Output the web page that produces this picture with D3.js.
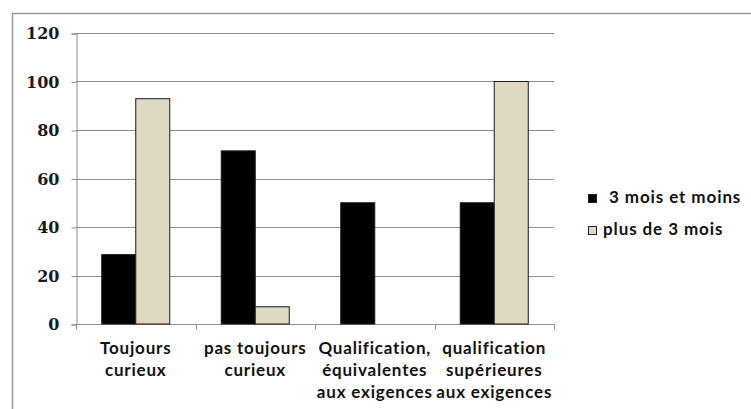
<!DOCTYPE html>
<html>
<head>
<meta charset="utf-8">
<script src="https://cdn.jsdelivr.net/npm/d3@7"></script>
<style>
  html, body { margin: 0; padding: 0; background: #fff; }
  svg { display: block; }
</style>
</head>
<body>
<svg id="chart" width="751" height="409"></svg>
<script>
// Category labels, one entry per line of text
const categories = [
  ["Toujours", "curieux"],
  ["pas toujours", "curieux"],
  ["Qualification,", "équivalentes", "aux exigences"],
  ["qualification", "supérieures", "aux exigences"]
];
const seriesNames = ["3 mois et moins", "plus de 3 mois"];
const shortTerm = [28.6, 71.4, 50, 50];
const longTerm = [92.9, 7.1, 0, 100];
const yTicks = [0, 20, 40, 60, 80, 100, 120];
const colors = ["#000000", "#DDD9C3"];

const svg = d3.select("#chart");
const plot = { left: 76, right: 554, top: 33, bottom: 324 };
const labelFont = "Lato, 'Noto Sans', sans-serif";

// outer chart frame (extends past the page edge on the right and bottom)
svg.append("rect")
  .attr("x", 12.5).attr("y", 13.5)
  .attr("width", 800).attr("height", 450)
  .attr("fill", "#fff").attr("stroke", "#9a9a9a").attr("stroke-width", 1.5);

const x0 = d3.scaleBand()
  .domain(d3.range(categories.length))
  .range([plot.left, plot.right])
  .paddingInner(0).paddingOuter(0);

const x1 = d3.scaleBand()
  .domain([0, 1])
  .range([0, x0.bandwidth()])
  .paddingOuter(0.757)
  .paddingInner(0);

const y = d3.scaleLinear().domain([0, 120]).range([plot.bottom, plot.top]);

// horizontal gridlines
svg.append("g")
  .selectAll("line")
  .data(yTicks)
  .join("line")
  .attr("x1", plot.left).attr("x2", plot.right)
  .attr("y1", d => Math.round(y(d)) + 0.5).attr("y2", d => Math.round(y(d)) + 0.5)
  .attr("stroke", "#8c8c8c").attr("stroke-width", 1);

// y axis
const yAxis = svg.append("g")
  .attr("transform", `translate(${plot.left + 0.5},0.5)`)
  .call(d3.axisLeft(y).tickValues(yTicks).tickSize(5).tickPadding(12));
yAxis.attr("font-family", null).attr("font-size", null);
yAxis.select(".domain").attr("stroke", "#8c8c8c");
yAxis.selectAll(".tick line").attr("stroke", "#8c8c8c");
yAxis.selectAll(".tick text")
  .attr("fill", "#1a1a1a")
  .attr("font-family", "'DejaVu Serif', serif")
  .attr("font-weight", "bold")
  .attr("font-size", "16px");

// x axis with ticks at category boundaries
const xAxisG = svg.append("g").attr("transform", `translate(0,${plot.bottom + 0.5})`);
xAxisG.append("line")
  .attr("x1", plot.left).attr("x2", plot.right)
  .attr("stroke", "#8c8c8c");
xAxisG.selectAll("line.tick")
  .data(d3.range(categories.length + 1))
  .join("line")
  .attr("class", "tick")
  .attr("x1", i => Math.round(plot.left + i * x0.bandwidth()) + 0.5)
  .attr("x2", i => Math.round(plot.left + i * x0.bandwidth()) + 0.5)
  .attr("y1", 0).attr("y2", 5)
  .attr("stroke", "#8c8c8c");

// category labels
const labels = svg.append("g")
  .selectAll("text")
  .data(categories)
  .join("text")
  .attr("x", (d, i) => x0(i) + x0.bandwidth() / 2)
  .attr("y", 354)
  .attr("text-anchor", "middle")
  .attr("fill", "#111")
  .style("font-family", labelFont)
  .style("font-weight", "bold")
  .style("font-size", "17px")
  .style("letter-spacing", "0.8px");
labels.selectAll("tspan")
  .data(d => d)
  .join("tspan")
  .attr("x", function () { return d3.select(this.parentNode).attr("x"); })
  .attr("dy", (d, i) => i === 0 ? 0 : 22)
  .text(d => d);

// bars
const values = [shortTerm, longTerm];
const groups = svg.append("g")
  .selectAll("g")
  .data(categories.map((c, i) => i))
  .join("g")
  .attr("transform", i => `translate(${x0(i)},0)`);

groups.selectAll("rect")
  .data(i => values.map((s, k) => ({ k, v: s[i] })))
  .join("rect")
  .filter(d => d.v > 0)
  .attr("x", d => x1(d.k))
  .attr("y", d => y(d.v))
  .attr("width", x1.bandwidth())
  .attr("height", d => y(0) - y(d.v))
  .attr("fill", d => colors[d.k])
  .attr("stroke", "#1a1a1a")
  .attr("stroke-width", 1);

// legend
const legend = svg.append("g")
  .selectAll("g")
  .data(seriesNames)
  .join("g")
  .attr("transform", (d, i) => `translate(588,${194 + i * 32})`);
legend.append("rect")
  .attr("x", 0.5).attr("y", 0.5)
  .attr("width", 8).attr("height", 8)
  .attr("fill", (d, i) => colors[i])
  .attr("stroke", "#222").attr("stroke-width", 1);
legend.append("text")
  .attr("x", (d, i) => i === 0 ? 21 : 15)
  .attr("y", 9)
  .attr("fill", "#111")
  .style("font-family", labelFont)
  .style("font-weight", "bold")
  .style("font-size", "17px")
  .style("letter-spacing", "0.9px")
  .text(d => d);
</script>
</body>
</html>
